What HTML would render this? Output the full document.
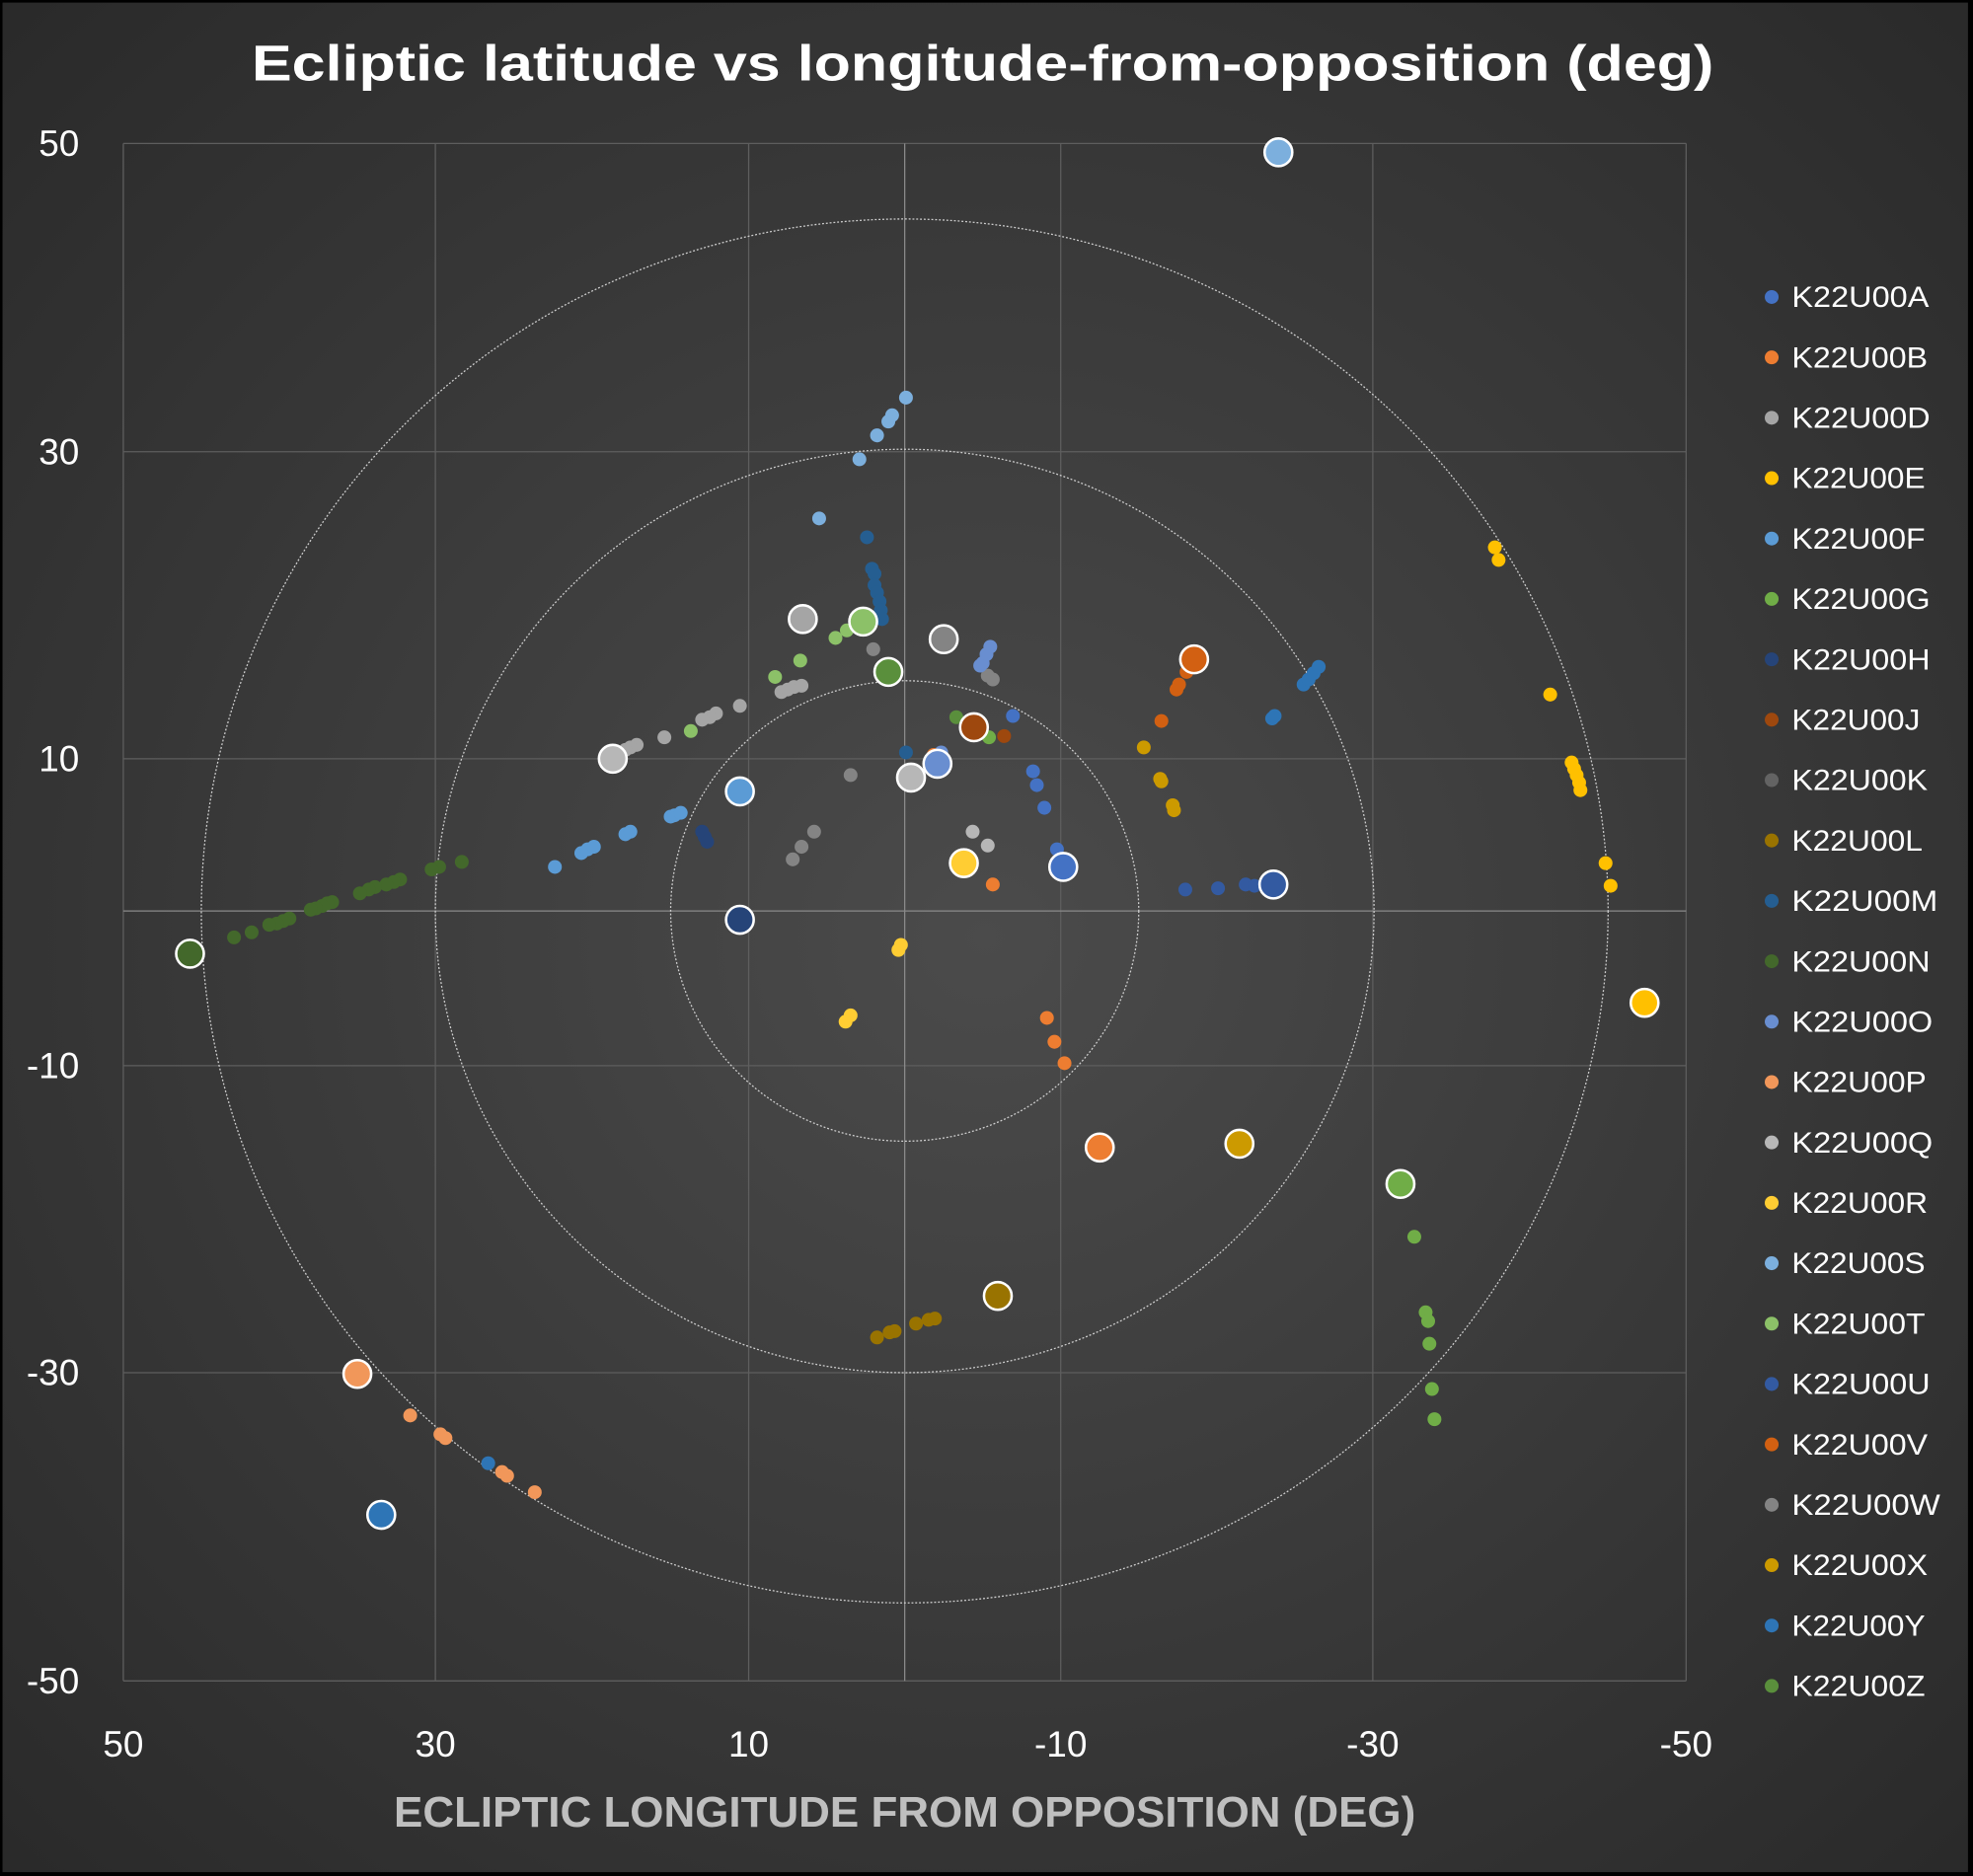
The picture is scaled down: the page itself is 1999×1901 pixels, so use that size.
<!DOCTYPE html>
<html><head><meta charset="utf-8"><style>
html,body{margin:0;padding:0;background:#000;}
svg{display:block;}
text{font-family:"Liberation Sans",sans-serif;}
</style></head><body>
<svg width="1999" height="1901" viewBox="0 0 1568 1491" xmlns="http://www.w3.org/2000/svg">
<defs>
<radialGradient id="bg" cx="50%" cy="50%" r="70%">
<stop offset="0" stop-color="#4b4b4b"/><stop offset="1" stop-color="#2a2a2a"/>
</radialGradient>
</defs>
<rect x="0" y="0" width="1568" height="1491" fill="#000"/>
<rect x="2" y="2" width="1562" height="1486" fill="url(#bg)"/>
<text x="781" y="64" text-anchor="middle" font-size="40" font-weight="bold" fill="#fff" textLength="1162" lengthAdjust="spacingAndGlyphs">Ecliptic latitude vs longitude-from-opposition (deg)</text>
<g stroke="#5e5e5e" stroke-width="1" fill="none">
<line x1="98" y1="114" x2="1340" y2="114"/><line x1="98" y1="359" x2="1340" y2="359"/><line x1="98" y1="603" x2="1340" y2="603"/><line x1="98" y1="847" x2="1340" y2="847"/><line x1="98" y1="1091" x2="1340" y2="1091"/><line x1="98" y1="1336" x2="1340" y2="1336"/>
<line x1="98" y1="114" x2="98" y2="1336"/><line x1="346" y1="114" x2="346" y2="1336"/><line x1="595" y1="114" x2="595" y2="1336"/><line x1="843" y1="114" x2="843" y2="1336"/><line x1="1091" y1="114" x2="1091" y2="1336"/><line x1="1340" y1="114" x2="1340" y2="1336"/>
</g>
<g stroke="#8a8a8a" stroke-width="1"><line x1="98" y1="724" x2="1340" y2="724"/><line x1="719" y1="114" x2="719" y2="1336"/></g>
<g stroke="#cfcfcf" stroke-width="1" stroke-dasharray="1.5,1.5" fill="none">
<ellipse cx="719" cy="724" rx="186" ry="183"/><ellipse cx="719" cy="724" rx="373" ry="367"/><ellipse cx="719" cy="724" rx="559" ry="550"/>
</g>
<g font-size="29" fill="#fff" text-anchor="end">
<text x="63" y="124">50</text><text x="63" y="369">30</text><text x="63" y="613">10</text><text x="63" y="857">-10</text><text x="63" y="1101">-30</text><text x="63" y="1346">-50</text>
</g>
<g font-size="29" fill="#fff" text-anchor="middle">
<text x="98" y="1396">50</text><text x="346" y="1396">30</text><text x="595" y="1396">10</text><text x="843" y="1396">-10</text><text x="1091" y="1396">-30</text><text x="1340" y="1396">-50</text>
</g>
<text x="719" y="1452" text-anchor="middle" font-size="34" font-weight="bold" fill="#bfbfbf" textLength="812" lengthAdjust="spacingAndGlyphs">ECLIPTIC LONGITUDE FROM OPPOSITION (DEG)</text>
<g>
<!-- small points -->
<g fill="#7CAFDD"><circle cx="720" cy="316" r="5.5"/><circle cx="709" cy="330" r="5.5"/><circle cx="706" cy="335" r="5.5"/><circle cx="697" cy="346" r="5.5"/><circle cx="683" cy="365" r="5.5"/><circle cx="651" cy="412" r="5.5"/></g>
<g fill="#255E91"><circle cx="689" cy="427" r="5.5"/><circle cx="693" cy="452" r="5.5"/><circle cx="695" cy="456" r="5.5"/><circle cx="695" cy="465" r="5.5"/><circle cx="697" cy="471" r="5.5"/><circle cx="699" cy="478" r="5.5"/><circle cx="700" cy="485" r="5.5"/><circle cx="701" cy="492" r="5.5"/><circle cx="720" cy="598" r="5.5"/></g>
<g fill="#848484"><circle cx="694" cy="516" r="5.5"/><circle cx="676" cy="616" r="5.5"/><circle cx="630" cy="683" r="5.5"/><circle cx="637" cy="673" r="5.5"/><circle cx="647" cy="661" r="5.5"/><circle cx="789" cy="540" r="5.5"/><circle cx="785" cy="537" r="5.5"/></g>
<g fill="#B7B7B7"><circle cx="773" cy="661" r="5.5"/><circle cx="785" cy="672" r="5.5"/></g>
<g fill="#8CC168"><circle cx="664" cy="507" r="5.5"/><circle cx="673" cy="501" r="5.5"/><circle cx="681" cy="497" r="5.5"/><circle cx="636" cy="525" r="5.5"/><circle cx="616" cy="538" r="5.5"/><circle cx="549" cy="581" r="5.5"/></g>
<g fill="#A5A5A5"><circle cx="621" cy="550" r="5.5"/><circle cx="626" cy="548" r="5.5"/><circle cx="631" cy="546" r="5.5"/><circle cx="637" cy="545" r="5.5"/><circle cx="588" cy="561" r="5.5"/><circle cx="569" cy="567" r="5.5"/><circle cx="564" cy="570" r="5.5"/><circle cx="558" cy="572" r="5.5"/><circle cx="528" cy="586" r="5.5"/><circle cx="506" cy="592" r="5.5"/><circle cx="501" cy="594" r="5.5"/><circle cx="497" cy="596" r="5.5"/></g>
<g fill="#698ED0"><circle cx="787" cy="514" r="5.5"/><circle cx="784" cy="520" r="5.5"/><circle cx="781" cy="527" r="5.5"/><circle cx="779" cy="529" r="5.5"/><circle cx="748" cy="598" r="5.5"/></g>
<g fill="#4472C4"><circle cx="805" cy="569" r="5.5"/><circle cx="821" cy="613" r="5.5"/><circle cx="824" cy="624" r="5.5"/><circle cx="830" cy="642" r="5.5"/><circle cx="840" cy="675" r="5.5"/></g>
<g fill="#5A8F3C"><circle cx="760" cy="570" r="5.5"/></g>
<g fill="#70AD47"><circle cx="779" cy="582" r="5.5"/><circle cx="786" cy="586" r="5.5"/></g>
<g fill="#9E480E"><circle cx="798" cy="585" r="5.5"/></g>
<g fill="#ED7D31"><circle cx="789" cy="703" r="5.5"/><circle cx="742" cy="600" r="5.5"/><circle cx="832" cy="809" r="5.5"/><circle cx="838" cy="828" r="5.5"/><circle cx="846" cy="845" r="5.5"/></g>
<g fill="#335AA1"><circle cx="942" cy="707" r="5.5"/><circle cx="968" cy="706" r="5.5"/><circle cx="990" cy="703" r="5.5"/><circle cx="997" cy="704" r="5.5"/></g>
<g fill="#2E75B6"><circle cx="1011" cy="571" r="5.5"/><circle cx="1013" cy="569" r="5.5"/><circle cx="1036" cy="544" r="5.5"/><circle cx="1040" cy="540" r="5.5"/><circle cx="1044" cy="535" r="5.5"/><circle cx="1048" cy="530" r="5.5"/><circle cx="388" cy="1163" r="5.5"/></g>
<g fill="#D26012"><circle cx="923" cy="573" r="5.5"/><circle cx="935" cy="548" r="5.5"/><circle cx="937" cy="544" r="5.5"/><circle cx="943" cy="534" r="5.5"/></g>
<g fill="#CC9A00"><circle cx="909" cy="594" r="5.5"/><circle cx="922" cy="619" r="5.5"/><circle cx="923" cy="621" r="5.5"/><circle cx="932" cy="640" r="5.5"/><circle cx="933" cy="644" r="5.5"/></g>
<g fill="#FFC000"><circle cx="1188" cy="435" r="5.5"/><circle cx="1191" cy="445" r="5.5"/><circle cx="1232" cy="552" r="5.5"/><circle cx="1249" cy="606" r="5.5"/><circle cx="1251" cy="611" r="5.5"/><circle cx="1253" cy="616" r="5.5"/><circle cx="1255" cy="622" r="5.5"/><circle cx="1256" cy="628" r="5.5"/><circle cx="1276" cy="686" r="5.5"/><circle cx="1280" cy="704" r="5.5"/></g>
<g fill="#FFCD33"><circle cx="716" cy="751" r="5.5"/><circle cx="714" cy="755" r="5.5"/><circle cx="676" cy="807" r="5.5"/><circle cx="672" cy="812" r="5.5"/></g>
<g fill="#70AD47"><circle cx="1124" cy="983" r="5.5"/><circle cx="1133" cy="1043" r="5.5"/><circle cx="1135" cy="1050" r="5.5"/><circle cx="1136" cy="1068" r="5.5"/><circle cx="1138" cy="1104" r="5.5"/><circle cx="1140" cy="1128" r="5.5"/></g>
<g fill="#997300"><circle cx="697" cy="1063" r="5.5"/><circle cx="707" cy="1059" r="5.5"/><circle cx="711" cy="1058" r="5.5"/><circle cx="728" cy="1052" r="5.5"/><circle cx="738" cy="1049" r="5.5"/><circle cx="743" cy="1048" r="5.5"/><circle cx="788" cy="1033" r="5.5"/></g>
<g fill="#F1975A"><circle cx="326" cy="1125" r="5.5"/><circle cx="350" cy="1140" r="5.5"/><circle cx="354" cy="1143" r="5.5"/><circle cx="399" cy="1170" r="5.5"/><circle cx="403" cy="1173" r="5.5"/><circle cx="425" cy="1186" r="5.5"/></g>
<g fill="#5B9BD5"><circle cx="441" cy="689" r="5.5"/><circle cx="462" cy="678" r="5.5"/><circle cx="467" cy="675" r="5.5"/><circle cx="472" cy="673" r="5.5"/><circle cx="497" cy="663" r="5.5"/><circle cx="501" cy="661" r="5.5"/><circle cx="533" cy="649" r="5.5"/><circle cx="536" cy="648" r="5.5"/><circle cx="541" cy="646" r="5.5"/></g>
<g fill="#264478"><circle cx="558" cy="661" r="5.5"/><circle cx="560" cy="665" r="5.5"/><circle cx="562" cy="669" r="5.5"/></g>
<g fill="#43682B"><circle cx="367" cy="685" r="5.5"/><circle cx="349" cy="689" r="5.5"/><circle cx="343" cy="691" r="5.5"/><circle cx="318" cy="699" r="5.5"/><circle cx="313" cy="701" r="5.5"/><circle cx="307" cy="703" r="5.5"/><circle cx="298" cy="705" r="5.5"/><circle cx="293" cy="707" r="5.5"/><circle cx="286" cy="710" r="5.5"/><circle cx="264" cy="717" r="5.5"/><circle cx="260" cy="718" r="5.5"/><circle cx="256" cy="720" r="5.5"/><circle cx="251" cy="722" r="5.5"/><circle cx="247" cy="723" r="5.5"/><circle cx="230" cy="730" r="5.5"/><circle cx="225" cy="732" r="5.5"/><circle cx="220" cy="734" r="5.5"/><circle cx="214" cy="735" r="5.5"/><circle cx="200" cy="741" r="5.5"/><circle cx="186" cy="745" r="5.5"/></g>
<!-- big points -->
<g stroke="#fff" stroke-width="2">
<circle cx="1016" cy="121" r="11" fill="#7CAFDD"/>
<circle cx="638" cy="492" r="11" fill="#A5A5A5"/>
<circle cx="750" cy="508" r="11" fill="#848484"/>
<circle cx="686" cy="494" r="11" fill="#8CC168"/>
<circle cx="706" cy="534" r="11" fill="#5A8F3C"/>
<circle cx="949" cy="524" r="11" fill="#D26012"/>
<circle cx="774" cy="578" r="11" fill="#9E480E"/>
<circle cx="487" cy="603" r="11" fill="#B7B7B7"/>
<circle cx="588" cy="629" r="11" fill="#5B9BD5"/>
<circle cx="724" cy="618" r="11" fill="#B7B7B7"/>
<circle cx="745" cy="607" r="11" fill="#698ED0"/>
<circle cx="766" cy="686" r="11" fill="#FFCD33"/>
<circle cx="845" cy="689" r="11" fill="#4472C4"/>
<circle cx="1012" cy="703" r="11" fill="#335AA1"/>
<circle cx="588" cy="731" r="11" fill="#264478"/>
<circle cx="151" cy="758" r="11" fill="#43682B"/>
<circle cx="1307" cy="797" r="11" fill="#FFC000"/>
<circle cx="874" cy="912" r="11" fill="#ED7D31"/>
<circle cx="985" cy="909" r="11" fill="#CC9A00"/>
<circle cx="1113" cy="941" r="11" fill="#70AD47"/>
<circle cx="793" cy="1030" r="11" fill="#997300"/>
<circle cx="284" cy="1092" r="11" fill="#F1975A"/>
<circle cx="303" cy="1204" r="11" fill="#2E75B6"/>
</g>
</g>
<!-- legend -->
<g font-size="23" fill="#fff">
<circle cx="1408" cy="236" r="5.5" fill="#4472C4"/><text x="1424" y="244" textLength="109" lengthAdjust="spacingAndGlyphs">K22U00A</text>
<circle cx="1408" cy="284" r="5.5" fill="#ED7D31"/><text x="1424" y="292" textLength="108" lengthAdjust="spacingAndGlyphs">K22U00B</text>
<circle cx="1408" cy="332" r="5.5" fill="#A5A5A5"/><text x="1424" y="340" textLength="110" lengthAdjust="spacingAndGlyphs">K22U00D</text>
<circle cx="1408" cy="380" r="5.5" fill="#FFC000"/><text x="1424" y="388" textLength="106" lengthAdjust="spacingAndGlyphs">K22U00E</text>
<circle cx="1408" cy="428" r="5.5" fill="#5B9BD5"/><text x="1424" y="436" textLength="106" lengthAdjust="spacingAndGlyphs">K22U00F</text>
<circle cx="1408" cy="476" r="5.5" fill="#70AD47"/><text x="1424" y="484" textLength="110" lengthAdjust="spacingAndGlyphs">K22U00G</text>
<circle cx="1408" cy="524" r="5.5" fill="#264478"/><text x="1424" y="532" textLength="110" lengthAdjust="spacingAndGlyphs">K22U00H</text>
<circle cx="1408" cy="572" r="5.5" fill="#9E480E"/><text x="1424" y="580" textLength="102" lengthAdjust="spacingAndGlyphs">K22U00J</text>
<circle cx="1408" cy="620" r="5.5" fill="#636363"/><text x="1424" y="628" textLength="108" lengthAdjust="spacingAndGlyphs">K22U00K</text>
<circle cx="1408" cy="668" r="5.5" fill="#997300"/><text x="1424" y="676" textLength="104" lengthAdjust="spacingAndGlyphs">K22U00L</text>
<circle cx="1408" cy="716" r="5.5" fill="#255E91"/><text x="1424" y="724" textLength="116" lengthAdjust="spacingAndGlyphs">K22U00M</text>
<circle cx="1408" cy="764" r="5.5" fill="#43682B"/><text x="1424" y="772" textLength="110" lengthAdjust="spacingAndGlyphs">K22U00N</text>
<circle cx="1408" cy="812" r="5.5" fill="#698ED0"/><text x="1424" y="820" textLength="112" lengthAdjust="spacingAndGlyphs">K22U00O</text>
<circle cx="1408" cy="860" r="5.5" fill="#F1975A"/><text x="1424" y="868" textLength="107" lengthAdjust="spacingAndGlyphs">K22U00P</text>
<circle cx="1408" cy="908" r="5.5" fill="#B7B7B7"/><text x="1424" y="916" textLength="112" lengthAdjust="spacingAndGlyphs">K22U00Q</text>
<circle cx="1408" cy="956" r="5.5" fill="#FFCD33"/><text x="1424" y="964" textLength="108" lengthAdjust="spacingAndGlyphs">K22U00R</text>
<circle cx="1408" cy="1004" r="5.5" fill="#7CAFDD"/><text x="1424" y="1012" textLength="106" lengthAdjust="spacingAndGlyphs">K22U00S</text>
<circle cx="1408" cy="1052" r="5.5" fill="#8CC168"/><text x="1424" y="1060" textLength="106" lengthAdjust="spacingAndGlyphs">K22U00T</text>
<circle cx="1408" cy="1100" r="5.5" fill="#335AA1"/><text x="1424" y="1108" textLength="110" lengthAdjust="spacingAndGlyphs">K22U00U</text>
<circle cx="1408" cy="1148" r="5.5" fill="#D26012"/><text x="1424" y="1156" textLength="108" lengthAdjust="spacingAndGlyphs">K22U00V</text>
<circle cx="1408" cy="1196" r="5.5" fill="#848484"/><text x="1424" y="1204" textLength="118" lengthAdjust="spacingAndGlyphs">K22U00W</text>
<circle cx="1408" cy="1244" r="5.5" fill="#CC9A00"/><text x="1424" y="1252" textLength="108" lengthAdjust="spacingAndGlyphs">K22U00X</text>
<circle cx="1408" cy="1292" r="5.5" fill="#2E75B6"/><text x="1424" y="1300" textLength="106" lengthAdjust="spacingAndGlyphs">K22U00Y</text>
<circle cx="1408" cy="1340" r="5.5" fill="#5A8F3C"/><text x="1424" y="1348" textLength="106" lengthAdjust="spacingAndGlyphs">K22U00Z</text>
</g>
</svg>
</body></html>
